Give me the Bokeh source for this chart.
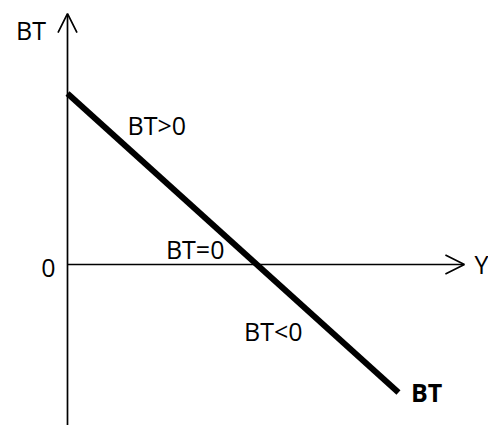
from bokeh.plotting import figure
from bokeh.models import Range1d, Arrow, OpenHead, Label
from bokeh.embed import file_html
from bokeh.resources import INLINE

# ---- data (units: arbitrary) ----
line_y = [0.0, 17.42]          # income Y
line_bt = [9.0, -6.74]         # trade balance BT

axis_v_y = [-8.6, 13.21]       # vertical axis extent (BT)
axis_h_x = [0.0, 20.89]        # horizontal axis extent (Y)

label_texts = ["BT", "BT>0", "BT=0", "0", "BT<0", "Y"]
label_x = [-2.71, 3.16, 5.18, -1.38, 9.29, 21.42]
label_y = [12.36, 7.36, 0.84, -0.21, -3.48, 0.05]

end_text = "BT"
end_x = 18.08
end_y = -6.69

# ---- layout ----
PX = 19.0            # pixels per unit
OX, OY = 67.0, 264.0 # origin position in the picture
PAGE = 0.0           # offset of the figure in the picture
W, H = 488, 425

p = figure(width=W, height=H, output_backend="svg", toolbar_location=None,
           x_range=Range1d((PAGE - OX) / PX, (PAGE + W - OX) / PX),
           y_range=Range1d((OY - PAGE - H) / PX, (OY - PAGE) / PX),
           min_border=0, min_border_left=0, min_border_right=0,
           min_border_top=0, min_border_bottom=0)
p.axis.visible = False
p.grid.visible = False
p.outline_line_color = None
p.background_fill_color = "white"
p.border_fill_color = "white"

# axes with open arrow heads
p.add_layout(Arrow(end=OpenHead(size=19, line_width=1.7, line_color="black"),
                   x_start=0, y_start=axis_v_y[0], x_end=0, y_end=axis_v_y[1],
                   line_width=1.7, line_color="black"))
p.add_layout(Arrow(end=OpenHead(size=19, line_width=1.7, line_color="black"),
                   x_start=axis_h_x[0], y_start=0, x_end=axis_h_x[1], y_end=0,
                   line_width=1.7, line_color="black"))

# BT line
p.line(line_y, line_bt, line_width=6, line_color="black")

FONT = "Open Sans"
for t, x, y in zip(label_texts, label_x, label_y):
    p.add_layout(Label(x=x, y=y, text=t, text_font=FONT, text_font_size="25px",
                       text_color="black", text_baseline="alphabetic",
                       text_align="left"))
p.add_layout(Label(x=end_x, y=end_y, text=end_text, text_font=FONT,
                   text_font_size="25px", text_font_style="bold",
                   text_color="black", text_baseline="alphabetic",
                   text_align="left"))

open("out.html", "w").write(file_html(p, INLINE))
